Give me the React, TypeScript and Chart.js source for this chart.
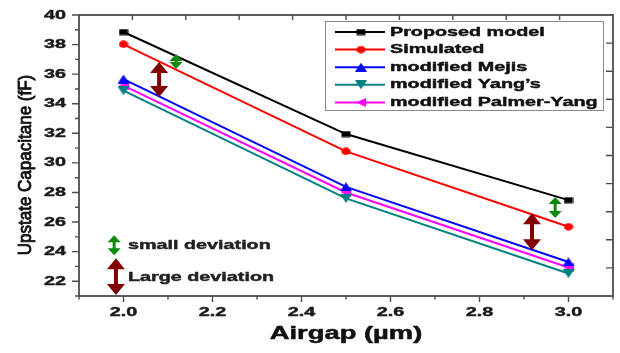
import React, { useEffect, useRef } from 'react';
import { Chart, registerables } from 'chart.js';

Chart.register(...registerables);

// ---------- data ----------
const airgap = [2.0, 2.5, 3.0];
const proposedModel = [38.85, 31.95, 27.48];
const simulated = [38.02, 30.78, 25.68];
const modifiedMejis = [35.67, 28.38, 23.3];
const modifiedYangs = [34.88, 27.6, 22.52];
const modifiedPalmerYang = [35.22, 28.0, 22.93];

const seriesNames = ['Proposed model', 'Simulated', 'modified Mejis', 'modified Yang\u2019s', 'modified Palmer-Yang'];
const seriesColors = ['#000000', '#ff0000', '#0000ff', '#008080', '#ff00ff'];
const seriesShapes = ['square', 'circle', 'triUp', 'triDown', 'triLeft'];

const yTickValues = [22, 24, 26, 28, 30, 32, 34, 36, 38, 40];
const xTickValues = [2.0, 2.2, 2.4, 2.6, 2.8, 3.0];

const xTitle = 'Airgap (\u00b5m)';
const yTitle = 'Upstate Capacitane (fF)';
const annotationLabels = ['small deviation', 'Large deviation'];

// deviation arrows in data coordinates
const arrowX = [2.118, 2.08, 2.97, 2.918, 1.979, 1.983];
const arrowTop = [37.36, 36.82, 27.69, 26.6, 25.1, 23.56];
const arrowBottom = [36.35, 34.45, 26.27, 24.1, 23.76, 21.06];
const arrowKind = ['small', 'large', 'small', 'large', 'small', 'large'];

const SX = 1.52; // horizontal stretch of the text in the reference
const FONT = '"Liberation Sans", Arial, sans-serif';

function makeMarker(shape: string, color: string): HTMLCanvasElement {
  const c = document.createElement('canvas');
  const dims: Record<string, [number, number]> = {
    square: [10, 7],
    circle: [10, 8],
    triUp: [12, 9],
    triDown: [12, 9],
    triLeft: [10, 9],
  };
  const [w, h] = dims[shape];
  c.width = w;
  c.height = h;
  const g = c.getContext('2d')!;
  g.fillStyle = color;
  g.beginPath();
  if (shape === 'square') {
    g.rect(0.5, 0.5, w - 1, h - 1);
  } else if (shape === 'circle') {
    g.ellipse(w / 2, h / 2, w / 2 - 0.3, h / 2 - 0.3, 0, 0, Math.PI * 2);
  } else if (shape === 'triUp') {
    g.moveTo(w / 2, 0);
    g.lineTo(w, h);
    g.lineTo(0, h);
  } else if (shape === 'triDown') {
    g.moveTo(0, 0);
    g.lineTo(w, 0);
    g.lineTo(w / 2, h);
  } else {
    g.moveTo(0, h / 2);
    g.lineTo(w, 0);
    g.lineTo(w, h);
  }
  g.closePath();
  g.fill();
  return c;
}

function stretchedText(
  ctx: CanvasRenderingContext2D,
  text: string,
  x: number,
  y: number,
  font: string,
  color: string,
  align: 'left' | 'center' | 'right',
  sx: number,
  stroke = 0.45
) {
  ctx.save();
  ctx.font = font;
  ctx.fillStyle = color;
  ctx.strokeStyle = color;
  ctx.lineWidth = stroke;
  ctx.lineJoin = 'round';
  ctx.textBaseline = 'middle';
  ctx.textAlign = 'left';
  const w = ctx.measureText(text).width * sx;
  let left = x;
  if (align === 'center') left = x - w / 2;
  if (align === 'right') left = x - w;
  ctx.translate(left, y);
  ctx.scale(sx, 1);
  ctx.fillText(text, 0, 0);
  if (stroke > 0) ctx.strokeText(text, 0, 0);
  ctx.restore();
}

function doubleArrow(
  ctx: CanvasRenderingContext2D,
  x: number,
  yTop: number,
  yBot: number,
  color: string,
  shaftW: number,
  headW: number,
  headL: number
) {
  ctx.save();
  ctx.fillStyle = color;
  ctx.fillRect(x - shaftW / 2, yTop + headL - 1, shaftW, yBot - yTop - 2 * headL + 2);
  ctx.beginPath();
  ctx.moveTo(x, yTop);
  ctx.lineTo(x + headW / 2, yTop + headL);
  ctx.lineTo(x - headW / 2, yTop + headL);
  ctx.closePath();
  ctx.fill();
  ctx.beginPath();
  ctx.moveTo(x, yBot);
  ctx.lineTo(x + headW / 2, yBot - headL);
  ctx.lineTo(x - headW / 2, yBot - headL);
  ctx.closePath();
  ctx.fill();
  ctx.restore();
}

export default function App() {
  const ref = useRef<HTMLCanvasElement | null>(null);

  useEffect(() => {
    if (!ref.current) return;
    const markers = seriesShapes.map((s, i) => makeMarker(s, seriesColors[i]));
    const allSeries = [proposedModel, simulated, modifiedMejis, modifiedYangs, modifiedPalmerYang];

    const decor = {
      id: 'decor',
      afterDatasetsDraw(chart: any) {
        const ctx: CanvasRenderingContext2D = chart.ctx;
        const { left, right, top, bottom } = chart.chartArea;
        const xs = chart.scales.x;
        const ys = chart.scales.y;
        const axisColor = '#4d4d4d';
        ctx.save();
        // frame
        ctx.strokeStyle = axisColor;
        ctx.lineWidth = 1.8;
        ctx.strokeRect(left, top, right - left, bottom - top);
        ctx.lineWidth = 1.4;
        ctx.beginPath();
        // left ticks (outward)
        for (let v = 21; v <= 40; v++) {
          const py = ys.getPixelForValue(v);
          const len = v % 2 === 0 ? 7 : 4;
          ctx.moveTo(left - len, py);
          ctx.lineTo(left, py);
        }
        // bottom ticks (outward)
        for (let k = 0; k <= 12; k++) {
          const v = 1.9 + k * 0.1;
          const px = xs.getPixelForValue(v);
          const len = k % 2 === 1 ? 6 : 3.5;
          ctx.moveTo(px, bottom);
          ctx.lineTo(px, bottom + len);
        }
        // top ticks (inward)
        for (let k = 1; k < 10; k++) {
          const px = left + ((right - left) * k) / 10;
          ctx.moveTo(px, top);
          ctx.lineTo(px, top + 5);
        }
        // right ticks (inward)
        for (let k = 1; k < 10; k++) {
          const py = top + ((bottom - top) * k) / 10;
          ctx.moveTo(right, py);
          ctx.lineTo(right - 7, py);
        }
        ctx.stroke();

        // tick labels
        const tickFont = `bold 13px ${FONT}`;
        yTickValues.forEach((v) => {
          stretchedText(ctx, String(v), left - 13, ys.getPixelForValue(v), tickFont, '#1a1a1a', 'right', SX);
        });
        xTickValues.forEach((v) => {
          stretchedText(ctx, v.toFixed(1), xs.getPixelForValue(v), 312, tickFont, '#1a1a1a', 'center', SX);
        });

        // axis titles
        stretchedText(ctx, xTitle, (left + right) / 2, 334, `bold 18px ${FONT}`, '#111111', 'center', SX, 0.5);
        ctx.save();
        ctx.translate(26, 165);
        ctx.rotate(-Math.PI / 2);
        ctx.font = `17px ${FONT}`;
        ctx.fillStyle = '#111111';
        ctx.strokeStyle = '#111111';
        ctx.lineWidth = 0.8;
        ctx.textAlign = 'center';
        ctx.textBaseline = 'middle';
        ctx.scale(1, 1.1);
        ctx.fillText(yTitle, 0, 0);
        ctx.strokeText(yTitle, 0, 0);
        ctx.restore();

        // arrows
        arrowX.forEach((ax, i) => {
          const px = xs.getPixelForValue(ax);
          const y1 = ys.getPixelForValue(arrowTop[i]);
          const y2 = ys.getPixelForValue(arrowBottom[i]);
          if (arrowKind[i] === 'small') doubleArrow(ctx, px, y1, y2, '#0a8a0a', 3, 13, 7);
          else doubleArrow(ctx, px, y1, y2, '#800000', 4, 18, 11);
        });
        stretchedText(ctx, annotationLabels[0], 128, 245, `bold 13px ${FONT}`, '#222222', 'left', SX);
        stretchedText(ctx, annotationLabels[1], 128, 277, `bold 13px ${FONT}`, '#222222', 'left', SX);

        // legend
        ctx.fillStyle = '#ffffff';
        ctx.fillRect(325, 21, 278, 89);
        ctx.strokeStyle = '#8a8a8a';
        ctx.lineWidth = 1;
        ctx.strokeRect(325.5, 21.5, 278, 89);
        seriesNames.forEach((name, i) => {
          const ry = 32 + i * 17.6;
          ctx.strokeStyle = seriesColors[i];
          ctx.lineWidth = 2;
          ctx.beginPath();
          ctx.moveTo(335, ry);
          ctx.lineTo(385, ry);
          ctx.stroke();
          const m = markers[i];
          ctx.drawImage(m, 361 - m.width / 2, ry - m.height / 2);
          stretchedText(ctx, name, 390, ry, `bold 13px ${FONT}`, '#111111', 'left', SX);
        });
        ctx.restore();
      },
    };

    const chart = new Chart(ref.current, {
      type: 'line',
      data: {
        datasets: allSeries.map((vals, i) => ({
          label: seriesNames[i],
          data: airgap.map((x, j) => ({ x, y: vals[j] })),
          borderColor: seriesColors[i],
          backgroundColor: seriesColors[i],
          borderWidth: 2,
          pointStyle: markers[i] as any,
          pointRadius: 5,
          tension: 0,
          fill: false,
        })),
      },
      options: {
        responsive: false,
        maintainAspectRatio: false,
        animation: false,
        layout: { padding: { top: 15, right: 7, left: 0, bottom: 0 } },
        scales: {
          x: {
            type: 'linear',
            min: 1.9,
            max: 3.1,
            ticks: { display: false },
            grid: { display: false },
            border: { display: false },
            afterFit: (s: any) => {
              s.height = 57;
            },
          },
          y: {
            min: 21,
            max: 40,
            ticks: { display: false },
            grid: { display: false },
            border: { display: false },
            afterFit: (s: any) => {
              s.width = 79;
            },
          },
        },
        plugins: {
          legend: { display: false },
          tooltip: { enabled: false },
        },
      },
      plugins: [decor],
    } as any);
    return () => chart.destroy();
  }, []);

  return (
    <div style={{ position: 'absolute', left: 0, top: 0, width: 620, height: 353, background: '#ffffff' }}>
      <canvas ref={ref} width={620} height={353} style={{ display: 'block', width: 620, height: 353 }} />
    </div>
  );
}
